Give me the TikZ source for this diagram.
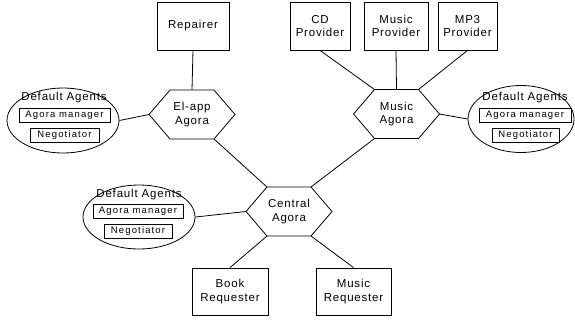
\documentclass[tikz,border=0pt]{standalone}
\usepackage{fontspec}
\setmainfont{Liberation Sans}[LetterSpace=7]
\newfontfamily\smallfam{Liberation Sans}[LetterSpace=12]
\newcommand\hexnode[4]{% name, cx, cy, text
  \node[hextext] (#1) at (#2,#3) {#4};
  \coordinate (#1-l) at ($(#2,#3)+(-43,0)$);
  \coordinate (#1-r) at ($(#2,#3)+(43,0)$);
  \coordinate (#1-tl) at ($(#2,#3)+(-22,-24.5)$);
  \coordinate (#1-tr) at ($(#2,#3)+(22,-24.5)$);
  \coordinate (#1-bl) at ($(#2,#3)+(-22,24.5)$);
  \coordinate (#1-br) at ($(#2,#3)+(22,24.5)$);
  \coordinate (#1-t) at ($(#2,#3)+(0,-24.5)$);
  \draw[lw] (#1-l) -- (#1-tl) -- (#1-tr) -- (#1-r) -- (#1-br) -- (#1-bl) -- cycle;
}
\usetikzlibrary{calc}
\tikzset{
  lw/.style={line width=0.8pt},
  bigfont/.style={font=\fontsize{11.5}{13.5}\selectfont},
  box/.style={draw, lw, bigfont, align=center, inner sep=0pt, minimum height=48},
  hextext/.style={bigfont, align=center, inner sep=0pt},
  ell/.style={draw, lw, ellipse, inner sep=0pt},
  sbox/.style={draw, lw, font=\smallfam\fontsize{9.5}{11}\selectfont, inner sep=0pt, minimum height=14},
  deftext/.style={font=\fontsize{11.5}{13}\selectfont, inner sep=0pt},
  conn/.style={lw}
}
\usetikzlibrary{shapes.geometric}
\begin{document}
\begin{tikzpicture}[x=1pt,y=-1pt]
\useasboundingbox (0,0) rectangle (575,322);
% boxes
\node[box, minimum width=72] (rep) at (193,26) {Repairer};
\node[box, minimum width=60] (cd) at (320,26) {CD\\Provider};
\node[box, minimum width=64] (mp) at (396,26) {Music\\Provider};
\node[box, minimum width=59] (mp3) at (467.5,26) {MP3\\Provider};
\node[box, minimum width=76, minimum height=47] (book) at (230,291.5) {Book\\Requester};
\node[box, minimum width=75, minimum height=47] (mreq) at (353.5,291.5) {Music\\Requester};
% hexagons
\hexnode{ea}{192}{114.5}{El-app\\Agora}
\hexnode{ma}{396.5}{114}{Music\\Agora}
\hexnode{ca}{289}{211.5}{Central\\Agora}
% ellipses
\node[ell, minimum width=112, minimum height=65] (e1) at (63,120.5) {};
\node[deftext] (e1t) at (64,98) {Default Agents};
\node[sbox, minimum width=91] (e1a) at (64.5,115.5) {Agora manager};
\node[sbox, minimum width=69] (e1n) at (64.5,135.5) {Negotiator};
\node[ell, minimum width=106, minimum height=67] (e2) at (521,119) {};
\node[deftext] (e2t) at (525,98) {Default Agents};
\node[sbox, minimum width=92] (e2a) at (525,115.5) {Agora manager};
\node[sbox, minimum width=67] (e2n) at (525.5,135.5) {Negotiator};
\node[ell, minimum width=112, minimum height=64] (e3) at (139,217) {};
\node[deftext] (e3t) at (139,195) {Default Agents};
\node[sbox, minimum width=90] (e3a) at (138,211) {Agora manager};
\node[sbox, minimum width=68] (e3n) at (138,231) {Negotiator};
% connectors
\draw[conn] (rep.south) -- (ea-t);
\draw[conn] (cd.south) -- (ma-tl);
\draw[conn] (mp.south) -- (ma-t);
\draw[conn] (mp3.south) -- (ma-tr);
\draw[conn] (e1.east) -- (ea-l);
\draw[conn] (ma-r) -- (e2.west);
\draw[conn] (e3.east) -- (ca-l);
\draw[conn] (ea-br) -- (ca-tl);
\draw[conn] (ma-bl) -- (ca-tr);
\draw[conn] (ca-bl) -- (book.north);
\draw[conn] (ca-br) -- (mreq.north);
\end{tikzpicture}
\end{document}
